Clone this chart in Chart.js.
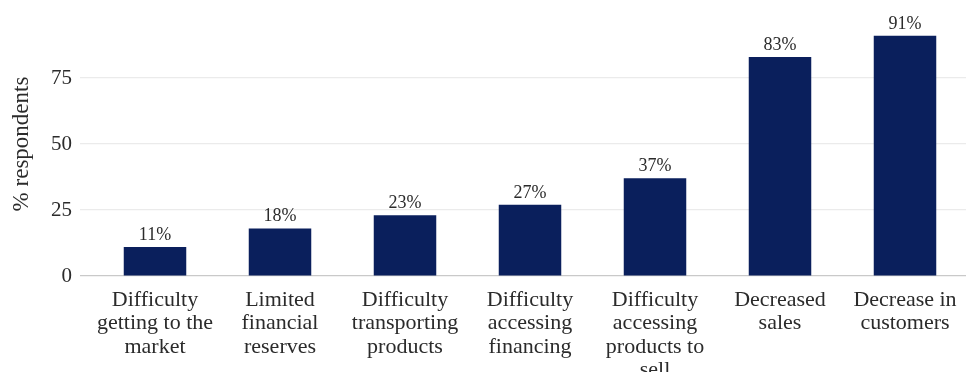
<!DOCTYPE html>
<html>
<head>
<meta charset="utf-8">
<script src="https://cdn.jsdelivr.net/npm/chart.js@4/dist/chart.umd.min.js"></script>
<style>
  html, body { margin: 0; padding: 0; background: #ffffff; overflow: hidden; }
  #wrap { width: 966px; height: 372px; overflow: hidden; }
  canvas { display: block; }
</style>
</head>
<body>
<div id="wrap"><canvas id="chart" width="980" height="372"></canvas></div>
<script>
// Reported impacts, share of respondents
const categories = [
  ["Difficulty", "getting to the", "market"],
  ["Limited", "financial", "reserves"],
  ["Difficulty", "transporting", "products"],
  ["Difficulty", "accessing", "financing"],
  ["Difficulty", "accessing", "products to", "sell"],
  ["Decreased", "sales"],
  ["Decrease in", "customers"]
];
const shares = [11, 18, 23, 27, 37, 83, 91];
const yTicks = [0, 25, 50, 75];

const serif = "'Liberation Serif', 'Times New Roman', serif";
const textColor = '#2b2b2b';
const barColor = '#0a1f5c';

// Bars sit at positions 1..n on a linear axis padded by 0.6 on each side
const points = shares.map((v, i) => ({ x: i + 1, y: v }));

const valueLabels = {
  id: 'valueLabels',
  afterDatasetsDraw(chart) {
    const { ctx } = chart;
    const meta = chart.getDatasetMeta(0);
    ctx.save();
    ctx.font = '18px ' + serif;
    ctx.fillStyle = textColor;
    ctx.textAlign = 'center';
    ctx.textBaseline = 'alphabetic';
    meta.data.forEach((bar, i) => {
      ctx.fillText(shares[i] + '%', bar.x, bar.y - 7);
    });
    ctx.restore();
  }
};

new Chart(document.getElementById('chart'), {
  type: 'bar',
  data: {
    datasets: [{
      data: points,
      backgroundColor: barColor,
      borderWidth: 0,
      categoryPercentage: 1,
      barPercentage: 0.5
    }]
  },
  options: {
    responsive: false,
    animation: false,
    layout: { padding: { top: 12, right: 0, bottom: 0, left: 0 } },
    plugins: { legend: { display: false }, tooltip: { enabled: false } },
    scales: {
      x: {
        type: 'linear',
        offset: false,
        min: 0.4,
        max: 7.6,
        grid: { display: false, drawTicks: false, offset: false },
        border: { display: false },
        afterFit(scale) {
          scale.height = 96;
          scale.paddingLeft = 0;
          scale.paddingRight = 0;
        },
        afterBuildTicks(scale) {
          scale.ticks = categories.map((_, i) => ({ value: i + 1 }));
        },
        ticks: {
          autoSkip: false,
          maxRotation: 0,
          padding: 13,
          color: textColor,
          font: { family: serif, size: 22, lineHeight: 1.05 },
          callback: (value) => categories[value - 1] || ''
        }
      },
      y: {
        min: 0,
        max: 100,
        afterFit(scale) {
          scale.width = 80;
          scale.paddingTop = 0;
          scale.paddingBottom = 0;
        },
        afterBuildTicks(scale) {
          scale.ticks = yTicks.concat([100]).map(v => ({ value: v }));
        },
        border: { display: false },
        grid: {
          drawTicks: false,
          lineWidth: 1.2,
          color: (c) => c.tick.value === 100 ? 'rgba(0,0,0,0)' : (c.tick.value === 0 ? '#c9c9c9' : '#ebebeb')
        },
        ticks: {
          padding: 8,
          color: textColor,
          font: { family: serif, size: 21 },
          callback: (v) => yTicks.includes(v) ? String(v) : ''
        },
        title: {
          display: true,
          text: '% respondents',
          color: textColor,
          font: { family: serif, size: 23 },
          padding: { top: 8, bottom: 0 }
        }
      }
    }
  },
  plugins: [valueLabels]
});
</script>
</body>
</html>
